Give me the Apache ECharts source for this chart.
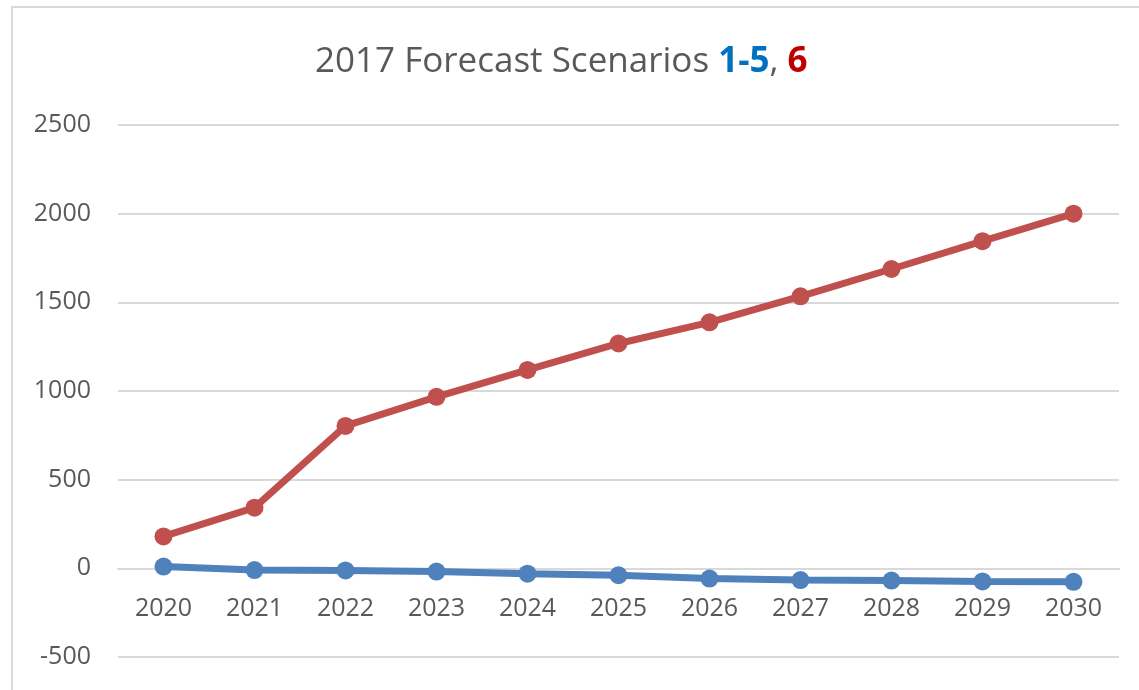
<!DOCTYPE html>
<html>
<head>
<meta charset="utf-8">
<script src="https://cdn.jsdelivr.net/npm/echarts@6/dist/echarts.min.js"></script>
<style>
  html, body { margin: 0; padding: 0; background: #fff; }
  #chart { width: 1139px; height: 690px; }
</style>
</head>
<body>
<div id="chart"></div>
<script>
// data
const years = ['2020', '2021', '2022', '2023', '2024', '2025', '2026', '2027', '2028', '2029', '2030']
const scenarios15 = [10, -10, -12, -18, -30, -39, -58, -66, -69, -74, -76]
const scenario6 = [180, 342, 803, 967, 1119, 1268, 1387, 1534, 1688, 1845, 2000]
const yTicks = { min: -500, max: 2500, interval: 500 }

const font = '"Open Sans", "Liberation Sans", sans-serif'
const gray = '#595959'

const chart = echarts.init(document.getElementById('chart'))

const option = {
  backgroundColor: '#fff',
  animation: false,
  title: {
    text: '2017 Forecast Scenarios {b|1-5}, {r|6}',
    left: 310,
    top: 40,
    textStyle: {
      color: gray,
      fontFamily: font,
      fontSize: 35,
      fontWeight: 'normal',
      rich: {
        b: { color: '#0070C0', fontWeight: 'bold', fontSize: 35, fontFamily: font },
        r: { color: '#C00000', fontWeight: 'bold', fontSize: 35, fontFamily: font }
      }
    }
  },
  graphic: [{
    type: 'rect',
    silent: true,
    shape: { x: 12, y: 7, width: 1300, height: 900 },
    style: { fill: 'none', stroke: '#d9d9d9', lineWidth: 2 }
  }],
  grid: {
    left: 118,
    right: 20,
    top: 125,
    bottom: 33,
    outerBoundsMode: 'none',
    containLabel: false
  },
  xAxis: {
    type: 'category',
    data: years,
    boundaryGap: true,
    offset: 0,
    axisLine: { onZero: false, lineStyle: { color: '#d9d9d9', width: 2 } },
    axisTick: { show: false },
    axisLabel: { color: gray, fontFamily: font, fontSize: 25, margin: 28 }
  },
  yAxis: {
    type: 'value',
    min: yTicks.min,
    max: yTicks.max,
    interval: yTicks.interval,
    axisLine: { show: false },
    axisTick: { show: false },
    axisLabel: {
      color: gray, fontFamily: font, fontSize: 25, margin: 27,
      formatter: v => String(v)
    },
    splitLine: { lineStyle: { color: '#d9d9d9', width: 2 } }
  },
  series: [
    {
      name: 'Scenarios 1-5',
      type: 'line',
      data: scenarios15,
      symbol: 'circle',
      symbolSize: 18,
      lineStyle: { color: '#4F81BD', width: 7 },
      itemStyle: { color: '#4F81BD' }
    },
    {
      name: 'Scenario 6',
      type: 'line',
      data: scenario6,
      symbol: 'circle',
      symbolSize: 18,
      lineStyle: { color: '#C0504D', width: 7 },
      itemStyle: { color: '#C0504D' }
    }
  ]
}

chart.setOption(option)

// move the category axis (line + labels) up to the zero line, like Excel does
const zeroPx = chart.convertToPixel({ yAxisIndex: 0 }, 0)
const minPx = chart.convertToPixel({ yAxisIndex: 0 }, yTicks.min)
chart.setOption({ xAxis: { offset: zeroPx - minPx } })
</script>
</body>
</html>
